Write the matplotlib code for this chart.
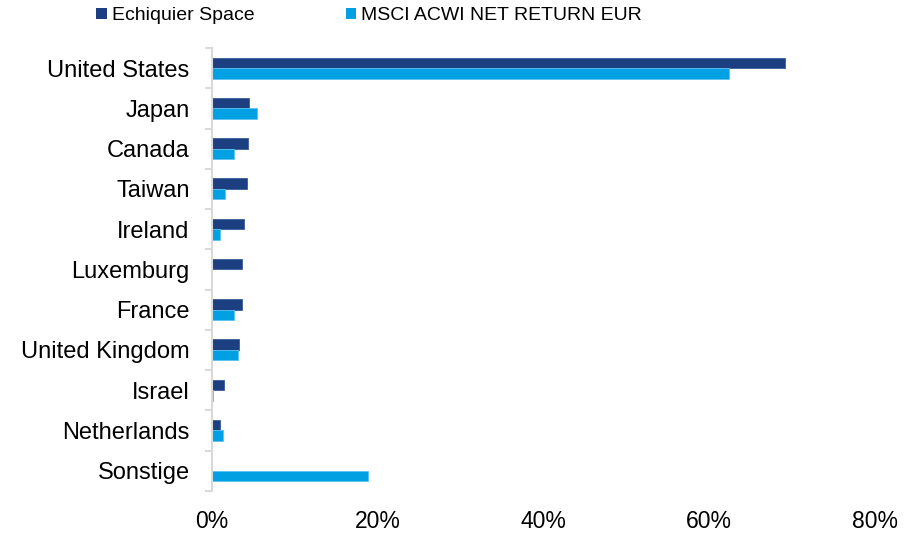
import numpy as np
import matplotlib
matplotlib.use('Agg')
import matplotlib.pyplot as plt
from matplotlib.patches import Patch
from matplotlib.ticker import FuncFormatter, FixedLocator

plt.rcParams['font.family'] = ['Liberation Sans', 'DejaVu Sans']

# data (percent of portfolio)
countries = ['United States', 'Japan', 'Canada', 'Taiwan', 'Ireland', 'Luxemburg',
             'France', 'United Kingdom', 'Israel', 'Netherlands', 'Sonstige']
fund = [69.2, 4.5, 4.4, 4.3, 3.9, 3.7, 3.7, 3.3, 1.5, 1.0, 0.0]
index = [62.4, 5.5, 2.7, 1.6, 1.0, 0.0, 2.7, 3.2, 0.2, 1.3, 18.8]
series_names = ['Echiquier Space', 'MSCI ACWI NET RETURN EUR']
x_ticks = [0, 20, 40, 60, 80]

dark = '#1c3f82'
light = '#00a0e3'

fig = plt.figure(figsize=(9.21, 5.33), dpi=100)
ax = fig.add_axes([0.230, 0.079, 0.720, 0.831])

y = np.arange(len(countries))
h = 0.26
ax.barh(y - h / 2, fund, height=h, color=dark, edgecolor='#3a5a98', linewidth=0.6)
ax.barh(y + h / 2, index, height=h, color=light, edgecolor='#5cc3ee', linewidth=0.6)

ax.set_ylim(len(countries) - 0.5, -0.5)
ax.set_xlim(0, 80)

ax.set_yticks(y)
ax.set_yticklabels(countries, fontsize=17)
ax.yaxis.set_minor_locator(FixedLocator(np.arange(len(countries) + 1) - 0.5))
ax.tick_params(axis='y', which='major', length=0, pad=16)
ax.tick_params(axis='y', which='minor', length=5, width=1.5, color='#d9d9d9')

ax.set_xticks(x_ticks)
ax.xaxis.set_major_formatter(FuncFormatter(lambda v, p: '%d%%' % v))
ax.tick_params(axis='x', length=0, labelsize=16.5, pad=14)

for s in ['top', 'right', 'bottom']:
    ax.spines[s].set_visible(False)
ax.spines['left'].set_color('#d9d9d9')
ax.spines['left'].set_linewidth(1.5)

handles = [Patch(facecolor=dark), Patch(facecolor=light)]
fig.legend(handles, series_names, loc='center left', bbox_to_anchor=(96 / 921, 1 - 16 / 533),
           ncol=2, frameon=False, fontsize=14, borderpad=0, borderaxespad=0,
           handlelength=0.55, handleheight=0.55, handletextpad=0.25, columnspacing=4.7)

fig.savefig('out.png', dpi=100)
